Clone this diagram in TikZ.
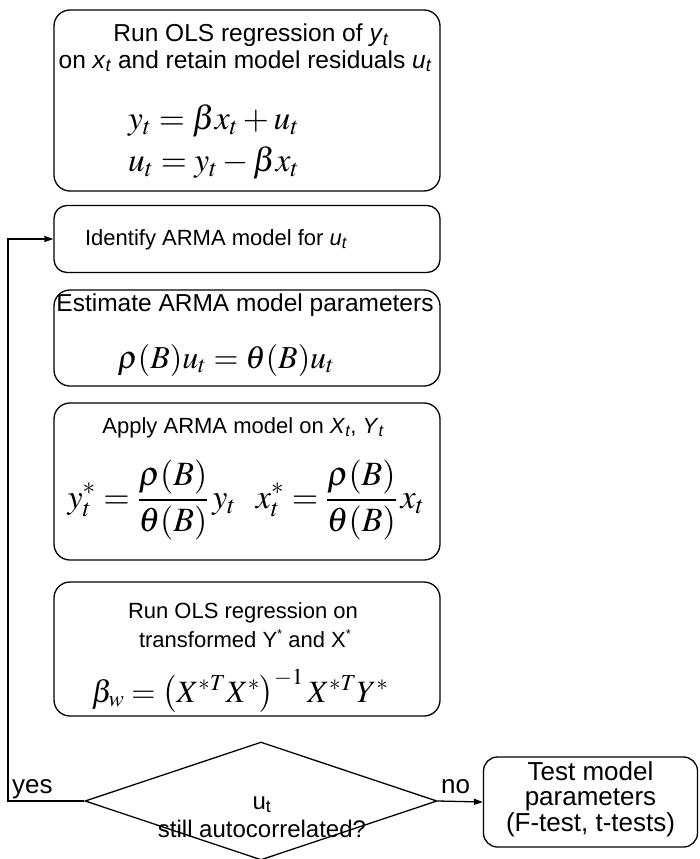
\documentclass[tikz,border=0pt]{standalone}
\usepackage{mathptmx}
\usepackage[no-math]{fontspec}
\setmainfont{Liberation Sans}
\usetikzlibrary{shapes.geometric,arrows.meta}
\newcommand{\vsub}[2]{\textit{#1}\textsubscript{\itshape #2}}
\newcommand{\fsz}[1]{\fontsize{#1}{#1}\selectfont}
\newcommand{\smallstar}{\raisebox{0.38em}{\fontsize{13}{13}\selectfont *}}
\tikzset{
  stepbox/.style={draw, line width=1.3pt, rounded corners=16pt, minimum width=386pt, inner sep=0pt},
  txt/.style={inner sep=0pt, anchor=base},
  eqn/.style={inner sep=0pt, anchor=base},
  flow/.style={line width=1.3pt, -{Triangle[length=9pt,width=6pt]}},
}
\begin{document}
\begin{tikzpicture}[x=1pt,y=-1pt]
\useasboundingbox (0,0) rectangle (700,859);
% boxes
\node[stepbox, minimum height=181pt] (b1) at (247,100.5) {};
\node[stepbox, minimum height=67pt, rounded corners=13pt] (b2) at (247,239) {};
\node[stepbox, minimum height=96pt] (b3) at (247,338) {};
\node[stepbox, minimum height=157pt] (b4) at (247,481.5) {};
\node[stepbox, minimum height=134pt] (b5) at (247,649) {};
\node[draw, line width=1.3pt, diamond, minimum width=352pt, minimum height=118pt, inner sep=0pt] (dia) at (261,801) {};
\node[draw, line width=1.3pt, rounded corners=14pt, minimum width=214pt, minimum height=90pt, inner sep=0pt] (tb) at (590.5,802) {};
% box 1 text
\node[txt, font=\fsz{24.5}] (t1a) at (251,42) {Run OLS regression of \vsub{y}{t}};
\node[txt, font=\fsz{24.5}] (t1b) at (245,68) {on \vsub{x}{t} and retain model residuals \vsub{u}{t}};
\node[eqn, anchor=base west, font=\fsz{33.5}] (e1a) at (128,129) {$y_t = \beta x_t + u_t$};
\node[eqn, anchor=base west, font=\fsz{33.5}] (e1b) at (128,171) {$u_t = y_t - \beta x_t$};
% box 2
\node[txt, font=\fsz{22}] (t2) at (216,245) {Identify ARMA model for \vsub{u}{t}};
% box 3
\node[txt, font=\fsz{24.5}] (t3) at (245,311) {Estimate ARMA model parameters};
\node[eqn, font=\fsz{32}] (e3) at (226,368) {$\rho(B)u_t = \theta(B)u_t$};
% box 4
\node[txt, font=\fsz{22}] (t4) at (243,433) {Apply ARMA model on \vsub{X}{t}, \vsub{Y}{t}};
\node[inner sep=0pt, font=\fsz{34}] (e4) at (246,500) {$\displaystyle y^*_t = \frac{\rho(B)}{\theta(B)}\,y_t \hspace{20pt} x^*_t = \frac{\rho(B)}{\theta(B)}\,x_t$};
% box 5
\node[txt, font=\fsz{22}] (t5a) at (243,618) {Run OLS regression on};
\node[txt, font=\fsz{22}] (t5b) at (245,647) {transformed Y\smallstar{} and X\smallstar};
\node[eqn, font=\fsz{31}] (e5) at (240,702) {$\beta_w = \left(X^{*T}X^*\right)^{-1} X^{*T}Y^*$};
% decision
\node[txt, font=\fsz{24}] (du) at (262,809) {u\textsubscript{t}};
\node[txt, font=\fsz{24}] (dq) at (262,837) {still autocorrelated?};
% test box
\node[txt, font=\fsz{26}] (tt1) at (590.5,780) {Test model};
\node[txt, font=\fsz{26}] (tt2) at (590.5,805) {parameters};
\node[txt, font=\fsz{26}] (tt3) at (590.5,831) {(F-test, t-tests)};
% labels
\node[txt, anchor=base west, font=\fsz{26}] (yes) at (12,793) {yes};
\node[txt, anchor=base west, font=\fsz{26}] (no) at (441,793) {no};
% connectors
\coordinate (turn) at (8,801);
\draw[flow] (dia.west) -- (turn) |- (b2.west);
\draw[flow] (dia.east) -- (tb.west);
\end{tikzpicture}
\end{document}
